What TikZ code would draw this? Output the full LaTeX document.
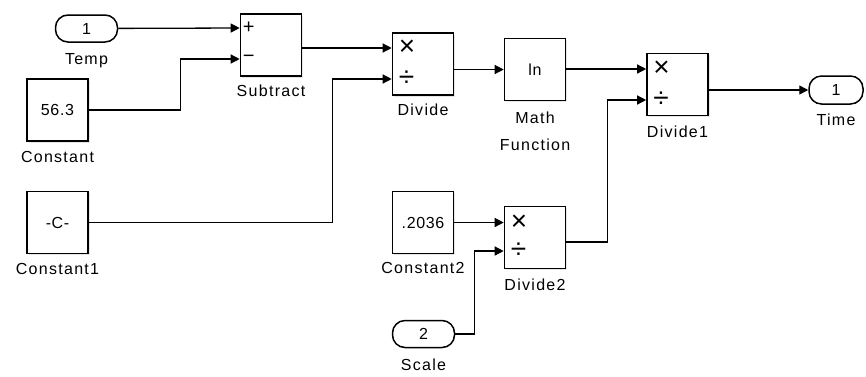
\documentclass[tikz,border=0pt]{standalone}
\usepackage{fontspec}
\setmainfont{Liberation Sans}
\usetikzlibrary{arrows.meta,positioning,shadows}

\begin{document}
\begin{tikzpicture}[x=1pt,y=-1pt,
    block/.style={
      rectangle, draw=black, line width=1.6pt, fill=white,
      minimum width=61pt, minimum height=62pt, inner sep=0pt,
      font=\fontsize{16}{16}\selectfont\addfontfeature{LetterSpace=4},
      drop shadow={opacity=0.2, shadow xshift=1.5pt, shadow yshift=-1.5pt}
    },
    port/.style={
      rectangle, rounded corners=12.5pt, draw=black, line width=1.5pt, fill=white,
      minimum width=62pt, minimum height=27pt, inner sep=0pt,
      font=\fontsize{16}{16}\selectfont
    },
    sub/.style={font=\fontsize{16}{27}\selectfont\addfontfeature{LetterSpace=8}, inner sep=1pt, align=center},
    sign/.style={font=\fontsize{28}{28}\selectfont, inner sep=0pt},
    arrow/.style={-{Triangle[length=9pt,width=9pt]}, line width=1.3pt}
  ]
  \useasboundingbox (0,0) rectangle (866,376);

  % sources
  \node[port]  (temp)   at (86.5,28.5) {1};
  \node[block] (const)  at (57.5,110)  {56.3};
  \node[block] (const1) at (57.5,222.5) {-C-};
  \node[block] (const2) at (423,222.5) {.2036};
  \node[port]  (scale)  at (423.5,334) {2};

  % operations
  \node[block] (subtr)  at (271,45)    {};
  \node[block] (div)    at (423,64)    {};
  \node[block] (mathfn) at (535,69.5)  {ln};
  \node[block] (div1)   at (677.5,84.5) {};
  \node[block] (div2)   at (535,237.5) {};
  \node[port, minimum width=54pt, minimum height=28pt] (time) at (836,90) {1};

  % names
  \node[sub, below=10pt of temp]  (temp-l)   {Temp};
  \node[sub, below=8pt of const]  (const-l)  {Constant};
  \node[sub, below=8pt of const1] (const1-l) {Constant1};
  \node[sub, below=7pt of const2] (const2-l) {Constant2};
  \node[sub, below=9pt of scale]  (scale-l)  {Scale};
  \node[sub, below=7pt of subtr]  (subtr-l)  {Subtract};
  \node[sub, below=7pt of div]    (div-l)    {Divide};
  \node[sub, below=9pt of mathfn] (mathfn-l) {Math\\Function};
  \node[sub, below=8pt of div1]   (div1-l)   {Divide1};
  \node[sub, below=8pt of div2]   (div2-l)   {Divide2};
  \node[sub, below=8pt of time]   (time-l)   {Time};

  % input ports
  \coordinate (subtr-a) at (subtr.west |- 0,28);
  \coordinate (subtr-b) at (subtr.west |- 0,59);
  \coordinate (div-a)   at (div.west |- 0,48);
  \coordinate (div-b)   at (div.west |- 0,79);
  \coordinate (div1-a)  at (div1.west |- 0,69);
  \coordinate (div1-b)  at (div1.west |- 0,100);
  \coordinate (div2-a)  at (div2.west |- 0,222.5);
  \coordinate (div2-b)  at (div2.west |- 0,251);

  % port signs
  \node[sign, font=\fontsize{20}{20}\selectfont, right=3pt of subtr-a] (subtr-s1) {+};
  \node[sign, font=\fontsize{20}{20}\selectfont, right=3pt of subtr-b] (subtr-s2) {−};
  \node[sign, right=7pt of div-a]   (div-s1)   {×};
  \node[sign, right=7pt of div-b]   (div-s2)   {÷};
  \node[sign, right=7pt of div1-a]  (div1-s1)  {×};
  \node[sign, right=7pt of div1-b]  (div1-s2)  {÷};
  \node[sign, right=7pt of div2-a]  (div2-s1)  {×};
  \node[sign, right=7pt of div2-b]  (div2-s2)  {÷};

  % signals
  \draw[arrow] (temp) -- (subtr-a);
  \draw[arrow] (const.east) -- ++(92,0) |- (subtr-b);
  \draw[arrow] (subtr.east |- div-a) -- (div-a);
  \draw[arrow] (const1.east) -- ++(244,0) |- (div-b);
  \draw[arrow] (div.east |- mathfn) -- (mathfn);
  \draw[arrow] (mathfn.east |- div1-a) -- (div1-a);
  \draw[arrow] (const2) -- (div2-a);
  \draw[arrow] (scale.east) -- ++(19,0) |- (div2-b);
  \draw[arrow] (div2.east |- 0,242) -- ++(41,0) |- (div1-b);
  \draw[arrow] (div1.east |- time) -- (time);
\end{tikzpicture}
\end{document}
